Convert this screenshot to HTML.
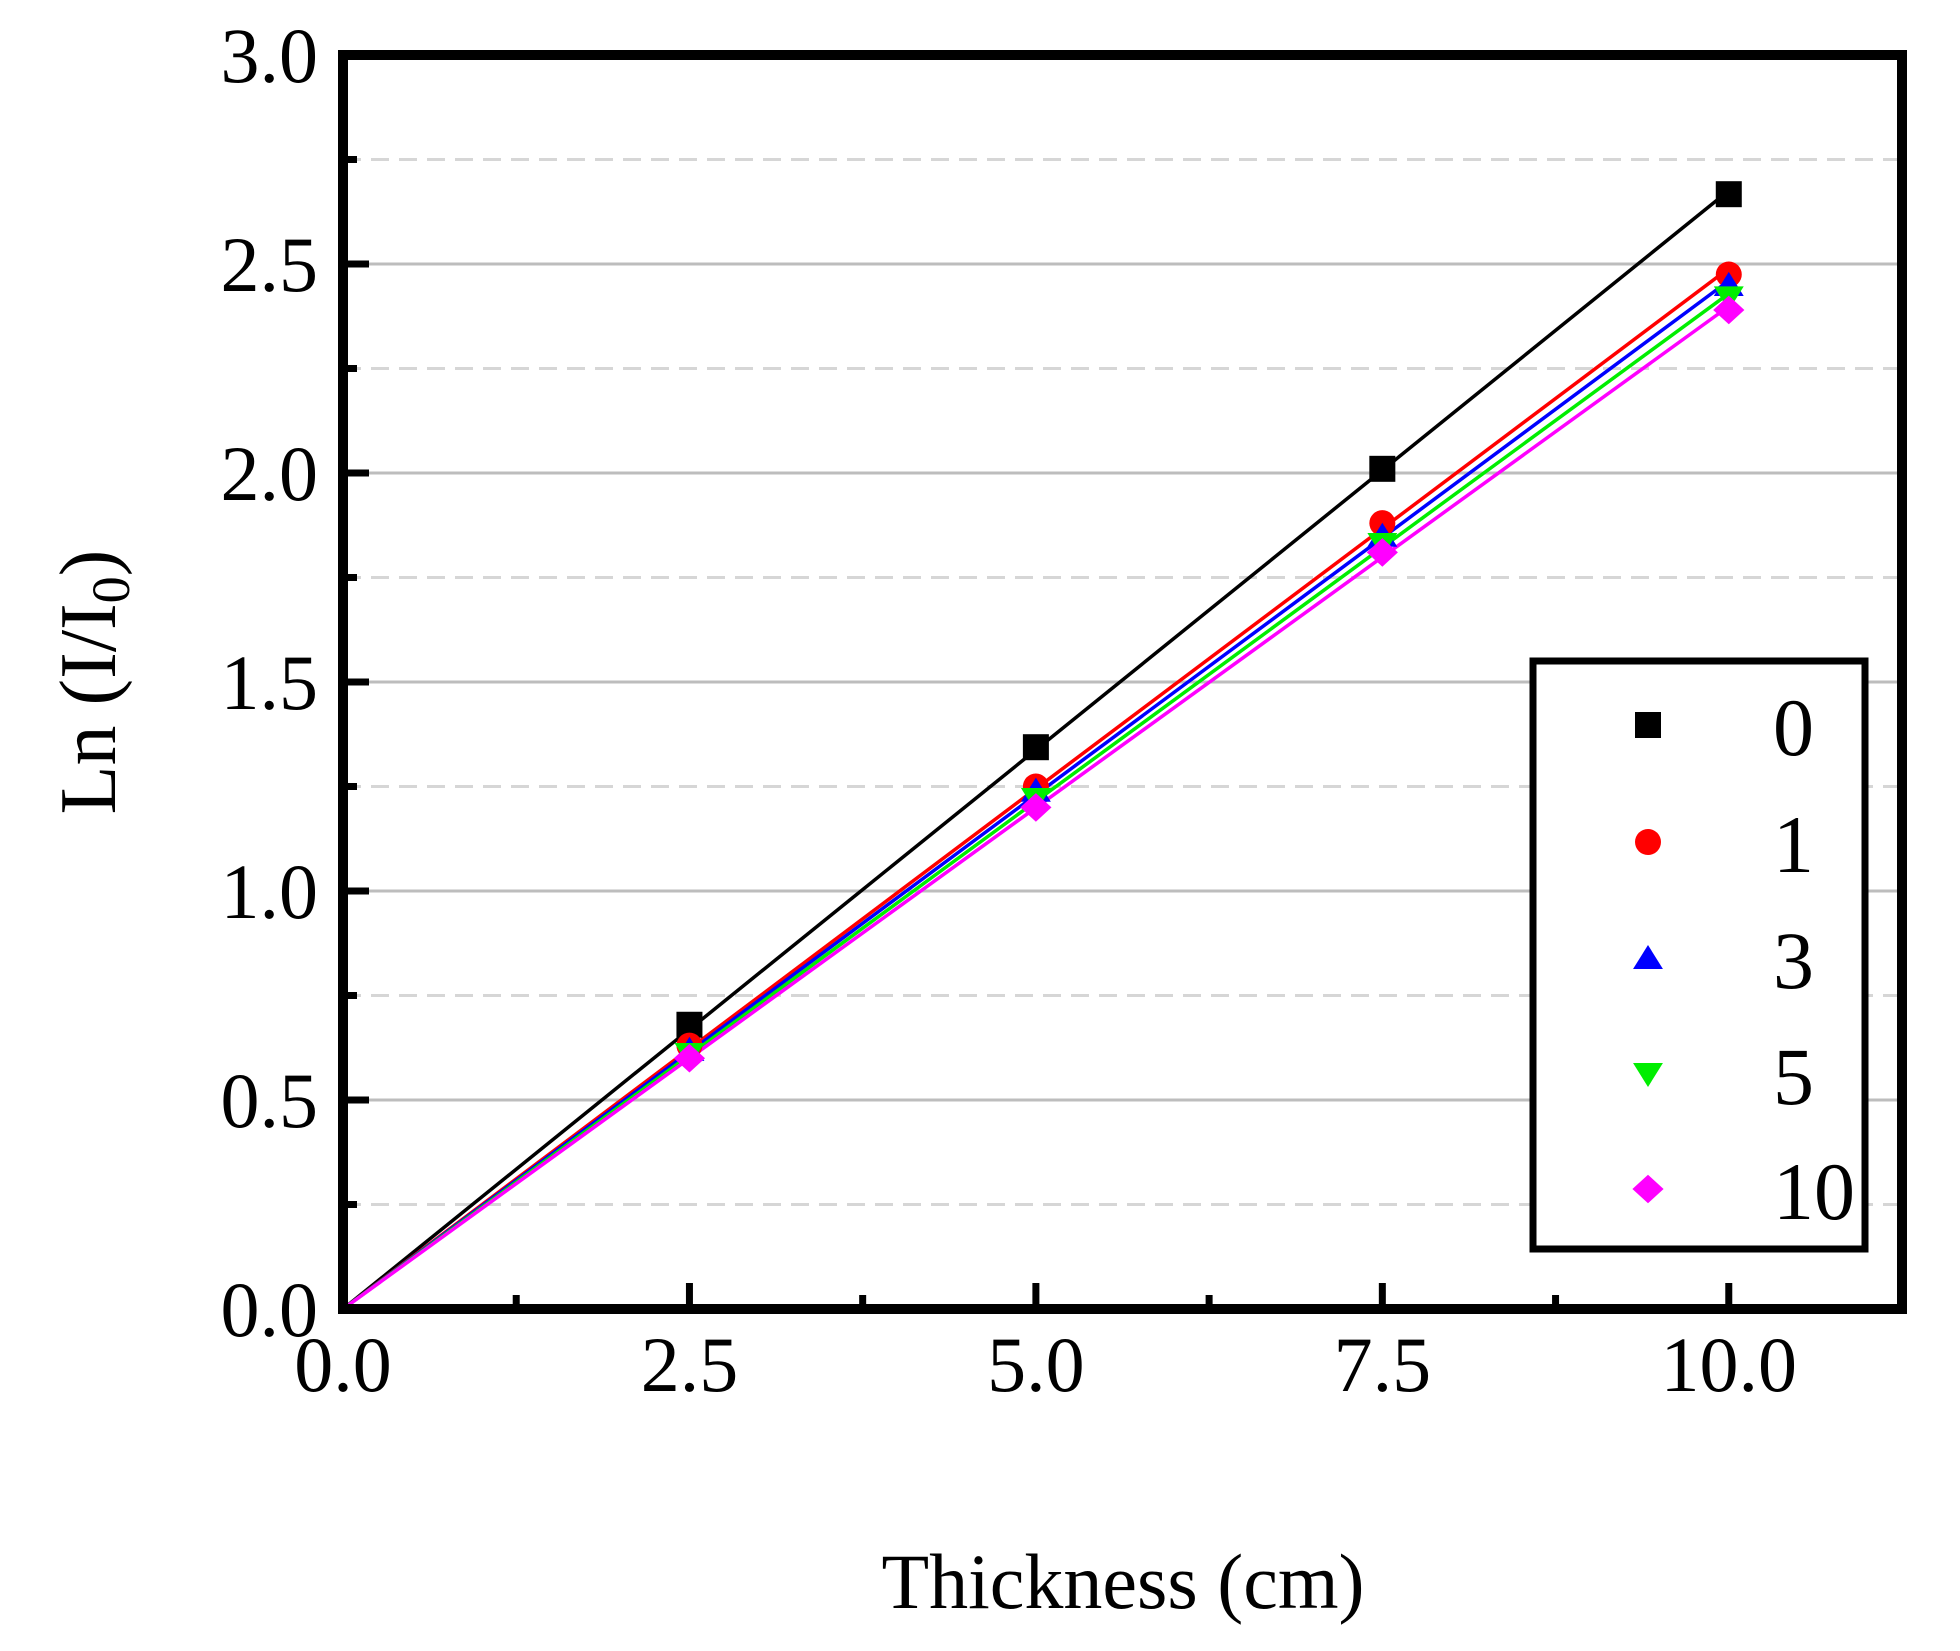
<!DOCTYPE html>
<html><head><meta charset="utf-8"><style>
html,body{margin:0;padding:0;background:#fff;}
svg{display:block;font-family:"Liberation Serif",serif;}
</style></head><body>
<svg id="chart" width="1960" height="1651" viewBox="0 0 1960 1651">
<g id="grid"></g>
<g id="fits"></g>
<g id="marks"></g>
<g id="axes"></g>
<text x="115" y="682" font-size="80" text-anchor="middle" transform="rotate(-90 115 682)">Ln (I/I<tspan font-size="54" dy="14">0</tspan><tspan dy="-14">)</tspan></text>
<text x="1123" y="1608" font-size="78" text-anchor="middle">Thickness (cm)</text>
<g id="legend"></g>
</svg>
<script>
const xs = [2.5, 5.0, 7.5, 10.0];
const s0 = [0.68, 1.344, 2.01, 2.667];
const s1 = [0.63, 1.25, 1.88, 2.475];
const s3 = [0.62, 1.24, 1.85, 2.45];
const s5 = [0.61, 1.22, 1.83, 2.42];
const s10 = [0.60, 1.20, 1.81, 2.39];
const seriesNames = ["0", "1", "3", "5", "10"];
const xTicks = ["0.0", "2.5", "5.0", "7.5", "10.0"];
const yTicks = ["0.0", "0.5", "1.0", "1.5", "2.0", "2.5", "3.0"];

const NS = "http://www.w3.org/2000/svg";
const L = 343, R = 1902, T = 55, B = 1309, XMAX = 11.25, YMAX = 3.0;
const X = v => L + (v / XMAX) * (R - L);
const Y = v => B - (v / YMAX) * (B - T);
function mk(tag, attrs, parent) {
  const e = document.createElementNS(NS, tag);
  for (const k in attrs) e.setAttribute(k, attrs[k]);
  parent.appendChild(e);
  return e;
}
const grid = document.getElementById("grid");
const axes = document.getElementById("axes");
for (let i = 1; i < 12; i++) {
  const v = i * 0.25;
  const major = i % 2 === 0;
  const g = mk("line", {x1: L, x2: R, y1: Y(v), y2: Y(v), stroke: major ? "#bdbdbd" : "#d6d6d6", "stroke-width": 3, "stroke-dasharray": major ? "none" : "18 10"}, grid);
  
  
}
const colors = ["#000000", "#ff0000", "#0000ff", "#00ee00", "#ff00ff"];
const allSeries = [s0, s1, s3, s5, s10];
const fits = document.getElementById("fits");
const marks = document.getElementById("marks");
function marker(shape, cx, cy, sz, color, parent) {
  const h = sz / 2;
  let e;
  if (shape === 0) e = mk("rect", {x: cx - h, y: cy - h, width: sz, height: sz, fill: color}, parent);
  else if (shape === 1) e = mk("circle", {cx: cx, cy: cy, r: h, fill: color}, parent);
  else if (shape === 2) e = mk("polygon", {points: `${cx},${cy - h} ${cx + h * 1.15},${cy + h * 0.85} ${cx - h * 1.15},${cy + h * 0.85}`, fill: color}, parent);
  else if (shape === 3) e = mk("polygon", {points: `${cx},${cy + h} ${cx + h * 1.15},${cy - h * 0.85} ${cx - h * 1.15},${cy - h * 0.85}`, fill: color}, parent);
  else e = mk("polygon", {points: `${cx},${cy - h * 1.1} ${cx + h * 1.2},${cy} ${cx},${cy + h * 1.1} ${cx - h * 1.2},${cy}`, fill: color}, parent);
  return e;
}
allSeries.forEach((s, si) => {
  let num = 0, den = 0;
  xs.forEach((x, i) => { num += x * s[i]; den += x * x; });
  const k = num / den;
  const ln = mk("line", {x1: X(0), y1: Y(0), x2: X(xs[xs.length - 1]), y2: Y(k * xs[xs.length - 1]), stroke: colors[si], "stroke-width": 3.5}, fits);
  
  
});
allSeries.forEach((s, si) => {
  xs.forEach((x, i) => {
    const m = marker(si, X(x), Y(s[i]), 26, colors[si], marks);
    
    
  });
});
const frame = mk("rect", {x: L, y: T, width: R - L, height: B - T, fill: "none", stroke: "#000", "stroke-width": 10}, axes);


for (let i = 1; i <= 8; i++) {
  const v = i * 1.25;
  const major = i % 2 === 0;
  const t = mk("line", {x1: X(v), x2: X(v), y1: B, y2: B - (major ? 26 : 14), stroke: "#000", "stroke-width": 7}, axes);
  
  
}
xTicks.forEach((lab, i) => {
  const t = mk("text", {x: X(i * 2.5), y: 1391, "font-size": 78, "text-anchor": "middle"}, axes);
  t.textContent = lab;
  
  
});
for (let i = 1; i < 12; i++) {
  const v = i * 0.25;
  const major = i % 2 === 0;
  const t = mk("line", {x1: L, x2: L + (major ? 26 : 14), y1: Y(v), y2: Y(v), stroke: "#000", "stroke-width": 7}, axes);
  
  
}
yTicks.forEach((lab, i) => {
  const t = mk("text", {x: 318, y: Y(i * 0.5) + 27, "font-size": 78, "text-anchor": "end"}, axes);
  t.textContent = lab;
  
  
});
const leg = document.getElementById("legend");
const box = mk("rect", {x: 1533, y: 661, width: 332, height: 588, fill: "#fff", stroke: "#000", "stroke-width": 7}, leg);


const rowsY = [725, 842, 958, 1074, 1189];
seriesNames.forEach((n, i) => {
  const g = mk("g", {}, leg);
  
  
  marker(i, 1648, rowsY[i], 26, colors[i], g);
  const t = mk("text", {x: 1773, y: rowsY[i] + 30, "font-size": 82}, g);
  t.textContent = n;
});
</script>
</body></html>
